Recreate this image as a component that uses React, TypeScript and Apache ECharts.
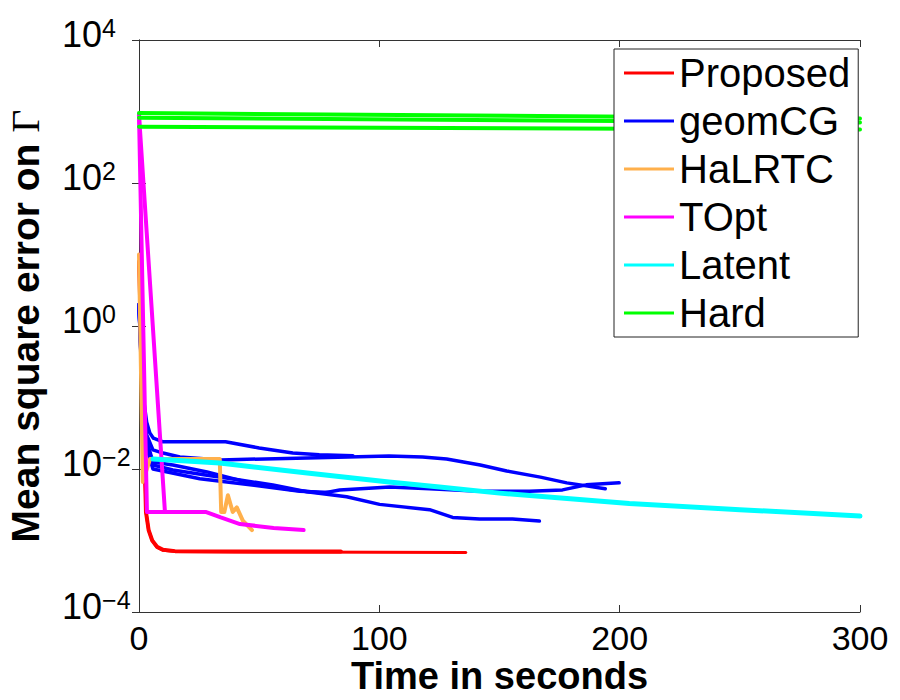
import React, { useEffect, useRef } from 'react';
import * as echarts from 'echarts';

const FONT = 'Liberation Sans, Arial, Helvetica, sans-serif';

const legendNames = ['Proposed', 'geomCG', 'HaLRTC', 'TOpt', 'Latent', 'Hard'];
const xTickStep = 100;
const xMin = 0;
const xMax = 300;
const yMin = 1e-4;
const yMax = 1e4;

// Proposed (red)
const proposedRun1 = [[0, 8], [1, 0.6], [1.7, 0.09], [2.9, 0.0025], [4, 0.0014], [5.5, 0.001], [7.5, 0.00082], [10, 0.00074], [15, 0.00071], [40, 0.0007], [84, 0.0007]];
const proposedRun2 = [[0, 8], [1, 0.6], [1.7, 0.09], [2.9, 0.0025], [4, 0.0014], [5.5, 0.001], [7.5, 0.0008], [10, 0.00073], [15, 0.0007], [60, 0.00069], [136, 0.00068]];

// geomCG (blue)
const geomA = [[0, 2], [1.2, 0.25], [2.2, 0.08], [3.2, 0.045], [4.5, 0.032], [6, 0.027], [10, 0.024], [36, 0.024], [50, 0.0197], [64, 0.0167], [75, 0.0158], [89, 0.0153]];
const geomB = [[0, 2], [1.2, 0.2], [2.2, 0.06], [3.2, 0.03], [5.8, 0.0185], [10, 0.0167], [17, 0.0147], [34, 0.0134], [70, 0.0143], [104, 0.0152], [118, 0.0147], [128, 0.0138], [142, 0.0114], [153, 0.0094], [167, 0.0077], [178, 0.0064], [194, 0.0053]];
const geomC = [[0, 2], [1.2, 0.18], [2.2, 0.05], [3.2, 0.025], [5.8, 0.0125], [14.1, 0.0114], [28.3, 0.0091], [46.1, 0.0064], [64, 0.0051], [76.4, 0.0046], [83.5, 0.0051], [104.3, 0.0056], [120.9, 0.0053], [141.7, 0.0049], [162.4, 0.0049], [176.2, 0.0051], [186.1, 0.006], [199.8, 0.0064]];
const geomD = [[0, 2], [1.2, 0.18], [2.2, 0.05], [3.2, 0.022], [5.8, 0.0114], [14.1, 0.0097], [28.3, 0.0082], [42, 0.007], [55.7, 0.006], [69.8, 0.0048], [86.4, 0.0041], [100.1, 0.0032], [120.9, 0.0027], [130.5, 0.0021], [141.7, 0.002], [155.4, 0.002], [166.6, 0.00187]];
const geomE = [[0, 2], [1.2, 0.16], [2.2, 0.045], [3.2, 0.02], [5.8, 0.01], [25.3, 0.0073], [50.3, 0.0058], [66.9, 0.0049], [79.4, 0.0047]];

// HaLRTC (orange)
const halrtc = [[0, 10], [1.6, 0.0066], [4.6, 0.0138], [33.6, 0.0138], [34.2, 0.0025], [35.5, 0.0025], [37, 0.0043], [39, 0.0025], [40.7, 0.0029], [43.2, 0.0019], [47, 0.0014]];

// TOpt (magenta)
const toptRun1 = [[0, 900], [3.3, 0.0025], [28, 0.0025], [34, 0.0021], [42, 0.0017], [56, 0.0015], [68.5, 0.0014]];
const toptRun2 = [[0, 900], [10.8, 0.0025]];

// Latent (cyan)
const latent = [[5.8, 0.0138], [33.6, 0.0121], [70, 0.0088], [104, 0.0066], [125, 0.0056], [150, 0.0046], [204, 0.0033], [250, 0.0027], [300, 0.0022]];

// Hard (green)
const hardRun1 = [[0, 950], [300, 800]];
const hardRun2 = [[0, 820], [300, 700]];
const hardRun3 = [[0, 610], [300, 560]];

const COLORS: Record<string, string> = {
  Proposed: '#ff0000',
  geomCG: '#0000ff',
  HaLRTC: '#ffb04c',
  TOpt: '#ff00ff',
  Latent: '#00ffff',
  Hard: '#00ff00',
};

function line(name: string, data: number[][], width: number) {
  const c = COLORS[name];
  return {
    type: 'line',
    name,
    data,
    color: c,
    showSymbol: false,
    symbol: 'none',
    lineStyle: { color: c, width, cap: 'round', join: 'round' },
    itemStyle: { color: c },
    silent: true,
    xAxisIndex: 0,
    yAxisIndex: 0,
  };
}

function expLabel(v: number) {
  const e = Math.round(Math.log10(v));
  const s = e < 0 ? '\u2212' + String(-e) : String(e);
  return '{b|10}{e|' + s + '}';
}

export default function App() {
  const ref = useRef<HTMLDivElement>(null);
  useEffect(() => {
    if (!ref.current) return;
    const chart = echarts.init(ref.current, undefined, { renderer: 'svg' });
    const frame = { show: true, lineStyle: { color: '#333', width: 1 } };
    const tick = { show: true, inside: true, length: 7, lineStyle: { color: '#333', width: 1 } };
    chart.setOption({
      animation: false,
      backgroundColor: '#fff',
      grid: { left: 139, right: 40, top: 40, bottom: 88, containLabel: false, outerBoundsMode: 'none' },
      legend: {
        data: legendNames,
        orient: 'vertical',
        left: 614,
        top: 49,
        backgroundColor: '#fff',
        borderColor: '#222',
        borderWidth: 1,
        padding: [4, 8, 4, 10],
        itemWidth: 50,
        itemHeight: 3,
        itemGap: 8,
        icon: 'rect',
        selectedMode: false,
        textStyle: { fontSize: 40, fontFamily: FONT, color: '#000', lineHeight: 40 },
      },
      xAxis: [
        {
          type: 'value',
          position: 'bottom',
          min: xMin,
          max: xMax,
          interval: xTickStep,
          axisLine: frame,
          axisTick: tick,
          splitLine: { show: false },
          axisLabel: { fontSize: 34, lineHeight: 32, fontFamily: FONT, color: '#000', margin: 10 },
          name: 'Time in seconds',
          nameLocation: 'middle',
          nameGap: 47,
          nameMoveOverlap: false,
          nameTextStyle: { fontSize: 38, lineHeight: 34, fontWeight: 'bold', fontFamily: FONT, color: '#000' },
        },
        {
          type: 'value',
          position: 'top',
          min: xMin,
          max: xMax,
          interval: xTickStep,
          axisLine: frame,
          axisTick: tick,
          splitLine: { show: false },
          axisLabel: { show: false },
        },
      ],
      yAxis: [
        {
          type: 'log',
          logBase: 100,
          position: 'left',
          min: yMin,
          max: yMax,
          axisLine: frame,
          axisTick: tick,
          minorTick: { show: false },
          splitLine: { show: false },
          axisLabel: {
            showMinLabel: true,
            showMaxLabel: true,
            align: 'left',
            margin: 77,
            fontSize: 36,
            fontFamily: FONT,
            color: '#000',
            padding: [0, 0, 12, 0],
            formatter: expLabel,
            rich: {
              b: { fontSize: 36, fontFamily: FONT, color: '#000', lineHeight: 37, verticalAlign: 'bottom' },
              e: { fontSize: 25, fontFamily: FONT, color: '#000', lineHeight: 25, verticalAlign: 'top', padding: [0, 0, 27, 0] },
            },
          },
          name: '{a|Mean square error on }{g|\u0393}',
          nameLocation: 'middle',
          nameGap: 94,
          nameMoveOverlap: false,
          nameTextStyle: {
            lineHeight: 40,
            rich: {
              a: { fontSize: 39, lineHeight: 40, fontWeight: 'bold', fontFamily: FONT, color: '#000' },
              g: { fontSize: 40, lineHeight: 40, fontFamily: 'Liberation Serif, DejaVu Serif, serif', color: '#000' },
            },
          },
        },
        {
          type: 'log',
          logBase: 100,
          position: 'right',
          min: yMin,
          max: yMax,
          axisLine: frame,
          axisTick: tick,
          minorTick: { show: false },
          splitLine: { show: false },
          axisLabel: { show: false },
        },
      ],
      series: [
        line('Proposed', proposedRun1, 4),
        line('Proposed', proposedRun2, 3),
        line('geomCG', geomA, 3.5),
        line('geomCG', geomB, 3.5),
        line('geomCG', geomC, 3.5),
        line('geomCG', geomD, 3.5),
        line('geomCG', geomE, 3.5),
        line('HaLRTC', halrtc, 4),
        line('TOpt', toptRun1, 4),
        line('TOpt', toptRun2, 4),
        line('Latent', latent, 5),
        line('Hard', hardRun1, 4),
        line('Hard', hardRun2, 4),
        line('Hard', hardRun3, 4),
      ],
    });
    return () => chart.dispose();
  }, []);
  return (
    <div
      ref={ref}
      style={{ position: 'absolute', left: 0, top: 0, width: 900, height: 700, background: '#fff' }}
    />
  );
}
